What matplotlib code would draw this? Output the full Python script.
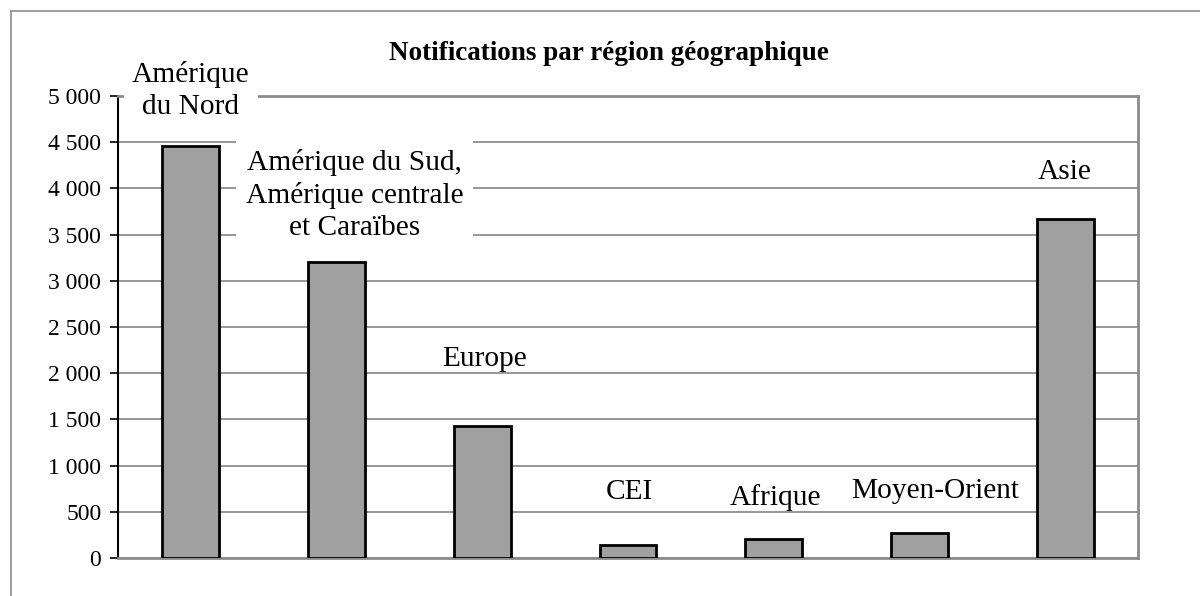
import matplotlib.pyplot as plt
import numpy as np
from matplotlib.lines import Line2D
from matplotlib.ticker import FuncFormatter

# data
regions = ["Amérique\ndu Nord",
           "Amérique du Sud,\nAmérique centrale\net Caraïbes",
           "Europe", "CEI", "Afrique", "Moyen-Orient", "Asie"]
notifications = [4460, 3200, 1425, 140, 205, 275, 3670]

# label placement relative to bar top (pixels) and white box padding
label_dy = [55, 67, 67, 53, 42, 42, 47]
label_dx = [0, 18, 2, 1, 2, 16, 0]
label_pad = [6, 7, 0, 0, 0, 0, 0]

plt.rcParams['font.family'] = ['Liberation Serif', 'DejaVu Serif']

fig = plt.figure(figsize=(12, 5.96), dpi=100)
ax = fig.add_axes([118/1200, 1-558/596, (1138-118)/1200, (558-96)/596])

x = np.arange(len(regions))
ax.bar(x, notifications, width=0.39, color='#a0a0a0', edgecolor='black',
       linewidth=2, zorder=3)

ax.set_xlim(-0.5, len(regions)-0.5)
ax.set_ylim(0, 5000)
ax.set_yticks(np.arange(0, 5001, 500))
ax.yaxis.set_major_formatter(FuncFormatter(lambda v, p: f"{int(v):,}".replace(",", " ")))
ax.set_xticks([])
ax.tick_params(axis='y', direction='out', length=6, width=1.2, labelsize=17, pad=6)
ax.grid(axis='y', color='#858585', linewidth=1.2, zorder=0)

ax.spines['left'].set_color('black')
ax.spines['left'].set_linewidth(1.5)
for s in ['right', 'bottom', 'top']:
    ax.spines[s].set_color('#8c8c8c')
    ax.spines[s].set_linewidth(2)

# category labels above the bars, with white boxes over the grid
per_px = 5000 / 462
per_cat = len(regions) / 1020
for xi, val, dy, dx, pad, name in zip(x, notifications, label_dy, label_dx, label_pad, regions):
    box = dict(facecolor='white', edgecolor='none', pad=pad) if pad else None
    ax.text(xi + dx*per_cat, val + dy*per_px, name, ha='center', va='center',
            fontsize=21.2, linespacing=1.3, zorder=4, clip_on=False, bbox=box)

fig.text(609/1200, 1-54/596, "Notifications par région géographique",
         ha='center', va='center', fontsize=19.5, fontweight='bold')

# outer chart border
fig.add_artist(Line2D([11/1200, 11/1200], [0, 1-11/596], color='#8c8c8c', lw=1.2))
fig.add_artist(Line2D([11/1200, 1], [1-11/596, 1-11/596], color='#8c8c8c', lw=1.2))

plt.savefig("out.png", dpi=100)
